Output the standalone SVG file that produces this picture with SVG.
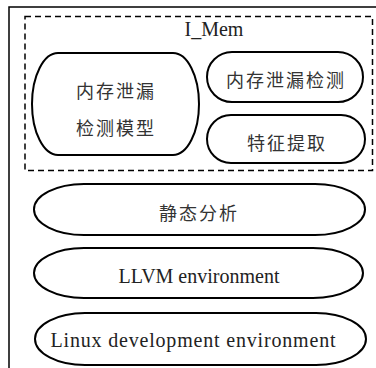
<svg xmlns="http://www.w3.org/2000/svg" width="376" height="368" viewBox="0 0 376 368">
<style>
.frame{fill:none;stroke:#000;stroke-width:1.5}
.dash{fill:none;stroke:#000;stroke-width:1.5;stroke-dasharray:6,4}
.node{fill:#fff;stroke:#000;stroke-width:2}
.en{font-family:"Liberation Serif",serif;font-size:20px;fill:#222;text-anchor:middle}
.zh{font-family:"Noto Sans CJK SC",sans-serif;font-size:18px;fill:#333;text-anchor:middle;letter-spacing:2px}
</style>
<rect x="0" y="0" width="376" height="368" fill="#fff"/>
<path class="frame" d="M9,368 V7 H376"/>
<g id="imem">
<rect class="dash" x="25" y="16.5" width="347.5" height="154"/>
<text class="en" x="214" y="36">I_Mem</text>
</g>
<g id="model">
<rect class="node" x="32" y="53" width="167" height="102" rx="26" ry="51"/>
<text class="zh" x="116" y="98">内存泄漏</text>
<text class="zh" x="116" y="135">检测模型</text>
</g>
<g id="detect">
<rect class="node" x="207" y="52" width="156" height="50" rx="25" ry="25"/>
<text class="zh" x="286" y="87">内存泄漏检测</text>
</g>
<g id="feature">
<rect class="node" x="207" y="115" width="158" height="48" rx="24" ry="24"/>
<text class="zh" x="287" y="150">特征提取</text>
</g>
<g id="static">
<rect class="node" x="34" y="184" width="331" height="51" rx="50" ry="25.5"/>
<text class="zh" x="199" y="220">静态分析</text>
</g>
<g id="llvm">
<rect class="node" x="34" y="248" width="329" height="50" rx="50" ry="25"/>
<text class="en" x="199" y="283">LLVM environment</text>
</g>
<g id="linux">
<rect class="node" x="35" y="313" width="331" height="52" rx="50" ry="26"/>
<text class="en" x="193" y="347" textLength="285">Linux development environment</text>
</g>
<g id="connectors"></g>
</svg>
